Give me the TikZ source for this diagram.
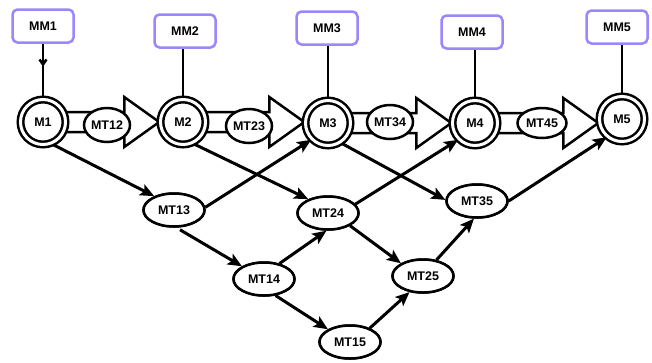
\documentclass[tikz,border=0pt]{standalone}
\usepackage{fontspec}
\setmainfont{Liberation Sans}
\usetikzlibrary{arrows.meta,shapes.geometric,calc}
\definecolor{mmcol}{RGB}{155,135,250}
\tikzset{
  lbl/.style={font=\fontsize{12.5}{14}\selectfont\bfseries},
  mbox/.style={lbl,draw=mmcol,line width=2.5pt,rounded corners=5pt,fill=white,minimum width=61pt,minimum height=33pt,inner sep=0pt},
  mnode/.style={lbl,circle,draw,fill=white,line width=2.5pt,double,double distance=3pt,minimum size=45pt,inner sep=0pt},
  tsmall/.style={lbl,ellipse,draw,fill=white,line width=2.5pt,minimum width=46pt,minimum height=34pt,inner sep=0pt},
  tbig/.style={lbl,ellipse,draw,fill=white,line width=2.5pt,minimum width=61pt,minimum height=33pt,inner sep=0pt},
  blk/.style={draw,fill=white,line width=2.5pt,line join=miter},
  conn/.style={line width=3pt,-{Stealth[length=14pt,width=12pt,inset=3pt]}},
  plain/.style={line width=2.5pt}
}
\newcommand\blockarr[2]{%
  \path[blk] let \p1=(#1.east), \p2=(#2.west) in
    (\x1-4pt,\y1+10pt) -- (\x2-35pt,\y1+10pt) -- (\x2-35pt,\y1+25pt) -- (\x2,\y1)
    -- (\x2-35pt,\y1-25pt) -- (\x2-35pt,\y1-10pt) -- (\x1-4pt,\y1-10pt) -- cycle;}
\begin{document}
\begin{tikzpicture}[x=1pt,y=-1pt]
\useasboundingbox (0,0) rectangle (652,362);
% MM boxes
\node[mbox] (MM1) at (43,26) {MM1};
\node[mbox] (MM2) at (185,31) {MM2};
\node[mbox] (MM3) at (327,28) {MM3};
\node[mbox] (MM4) at (472,32) {MM4};
\node[mbox] (MM5) at (617,27) {MM5};
% lower transition ellipses
\node[tbig] (MT13) at (174,210) {MT13};
\node[tbig] (MT24) at (328,213) {MT24};
\node[tbig] (MT35) at (477,201) {MT35};
\node[tbig] (MT14) at (264,279) {MT14};
\node[tbig] (MT25) at (423,276) {MT25};
\node[tbig] (MT15) at (350,342) {MT15};
% place-holders of the M nodes (drawn later, on top)
\path (43,122) node[mnode,draw=none,fill=none] (M1) {};
\path (183,122) node[mnode,draw=none,fill=none] (M2) {};
\path (328,123) node[mnode,draw=none,fill=none] (M3) {};
\path (475,123) node[mnode,draw=none,fill=none] (M4) {};
\path (622,119) node[mnode,draw=none,fill=none] (M5) {};
% vertical links
\draw[plain] (M1.north) -- (M1.north |- MM1.south);
\draw[plain,-{Straight Barb[length=5pt,width=7pt]}] (MM1.south) -- ($(MM1.south)!0.42!(M1.north)$);
\draw[plain] (M2.north) -- (M2.north |- MM2.south);
\draw[plain] (M3.north) -- (M3.north |- MM3.south);
\draw[plain] (M4.north) -- (M4.north |- MM4.south);
\draw[plain] (M5.north) -- (M5.north |- MM5.south);
% block arrows
\blockarr{M1}{M2}
\blockarr{M2}{M3}
\blockarr{M3}{M4}
\blockarr{M4}{M5}
% connectors
\draw[conn] (M1.-68) -- (MT13.145);
\draw[conn] (MT13.5) -- (M3.-135);
\draw[conn] (M2.-65) -- (MT24.145);
\draw[conn] (MT24.18) -- (M4.-135);
\draw[conn] (M3.-57) -- (MT35.178);
\draw[conn] (MT35.east) -- (M5.-130);
\draw[conn] ($(MT13.south)+(6,2)$) -- (MT14.150);
\draw[conn] (MT14.45) -- (MT24.-95);
\draw[conn] (MT24.-30) -- (MT25.150);
\draw[conn] (MT25.50) -- (MT35.-100);
\draw[conn] (MT14.-55) -- (MT15.150);
\draw[conn] (MT15.35) -- (MT25.-130);
% M nodes on top
\node[mnode] at (M1) {M1};
\node[mnode] at (M2) {M2};
\node[mnode] at (M3) {M3};
\node[mnode] at (M4) {M4};
\node[mnode] at (M5) {M5};
% transition ellipses on the block arrows
\node[tsmall] (MT12) at (107,125) {MT12};
\node[tsmall] (MT23) at (249,126) {MT23};
\node[tsmall] (MT34) at (390,122) {MT34};
\node[tsmall,minimum width=49pt,minimum height=30pt] (MT45) at (542,123) {MT45};
% lower ellipses redrawn above the connectors
\node[tbig] at (MT13) {MT13};
\node[tbig] at (MT24) {MT24};
\node[tbig] at (MT35) {MT35};
\node[tbig] at (MT14) {MT14};
\node[tbig] at (MT25) {MT25};
\node[tbig] at (MT15) {MT15};
\end{tikzpicture}
\end{document}
